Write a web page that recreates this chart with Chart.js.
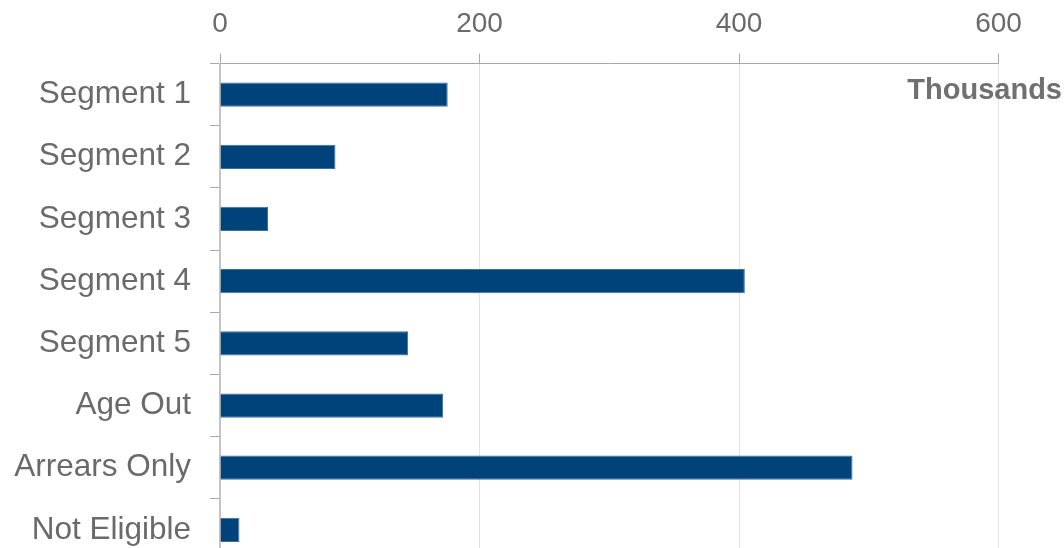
<!DOCTYPE html>
<html>
<head>
<meta charset="utf-8">
<script src="https://cdn.jsdelivr.net/npm/chart.js@4/dist/chart.umd.min.js"></script>
<style>
    html, body { margin: 0; padding: 0; background: #fff; overflow: hidden; }
    #wrap { width: 1064px; height: 560px; }
</style>
</head>
<body>
<div id="wrap"><canvas id="myChart" width="1064" height="561"></canvas></div>
<script>
/* data (thousands) */
const segments = ['Segment 1', 'Segment 2', 'Segment 3', 'Segment 4', 'Segment 5', 'Age Out', 'Arrears Only', 'Not Eligible'];
const counts = [175.5, 89, 37, 404.5, 145, 172, 487.5, 15];
const xTicks = [0, 200, 400, 600];
const unitLabel = 'Thousands';

const textGray = '#6a6a6a';
const font = 'Liberation Sans, Arial, sans-serif';

/* "Thousands" note under the top axis */
const unitNote = {
    id: 'unitNote',
    afterDraw(chart) {
        const ctx = chart.ctx;
        ctx.save();
        ctx.font = 'bold 29px ' + font;
        ctx.fillStyle = '#707070';
        ctx.textAlign = 'right';
        ctx.textBaseline = 'middle';
        ctx.fillText(unitLabel, 1062, 91);
        ctx.restore();
    }
};

let ctx = document.getElementById('myChart').getContext('2d');

let barChart = new Chart(ctx, {
    type: 'bar',
    data: {
        labels: segments,
        datasets: [{
            data: counts,
            backgroundColor: '#00427a',
            borderColor: '#3d6e9c',
            borderWidth: 1,
            barPercentage: 0.39,
            categoryPercentage: 1
        }]
    },
    options: {
        indexAxis: 'y',
        responsive: false,
        animation: false,
        layout: { padding: { top: 0, right: 65.5, bottom: 0, left: 0 } },
        plugins: {
            legend: { display: false },
            tooltip: { enabled: false }
        },
        scales: {
            x: {
                position: 'top',
                min: xTicks[0],
                max: xTicks[xTicks.length - 1],
                afterBuildTicks: (scale) => { scale.ticks = xTicks.map(v => ({ value: v })); },
                afterFit: (scale) => {
                    scale.height = 63.5;
                    scale.paddingLeft = 0;
                    scale.paddingRight = 0;
                },
                grid: {
                    color: '#e3e3e3',
                    tickColor: '#a8a8a8',
                    tickLength: 10,
                    lineWidth: 1
                },
                border: { display: true, color: '#a8a8a8' },
                ticks: {
                    color: textGray,
                    padding: 12,
                    font: { family: font, size: 28 }
                }
            },
            y: {
                afterFit: (scale) => {
                    scale.width = 220;
                    scale.paddingTop = 0;
                    scale.paddingBottom = 0;
                },
                grid: {
                    drawOnChartArea: false,
                    tickColor: '#a8a8a8',
                    tickLength: 10,
                    offset: true
                },
                border: { display: true, color: '#c4c4c4', width: 2 },
                ticks: {
                    color: textGray,
                    padding: 19,
                    font: { family: font, size: 31.5 }
                }
            }
        }
    },
    plugins: [unitNote]
});
</script>
</body>
</html>
